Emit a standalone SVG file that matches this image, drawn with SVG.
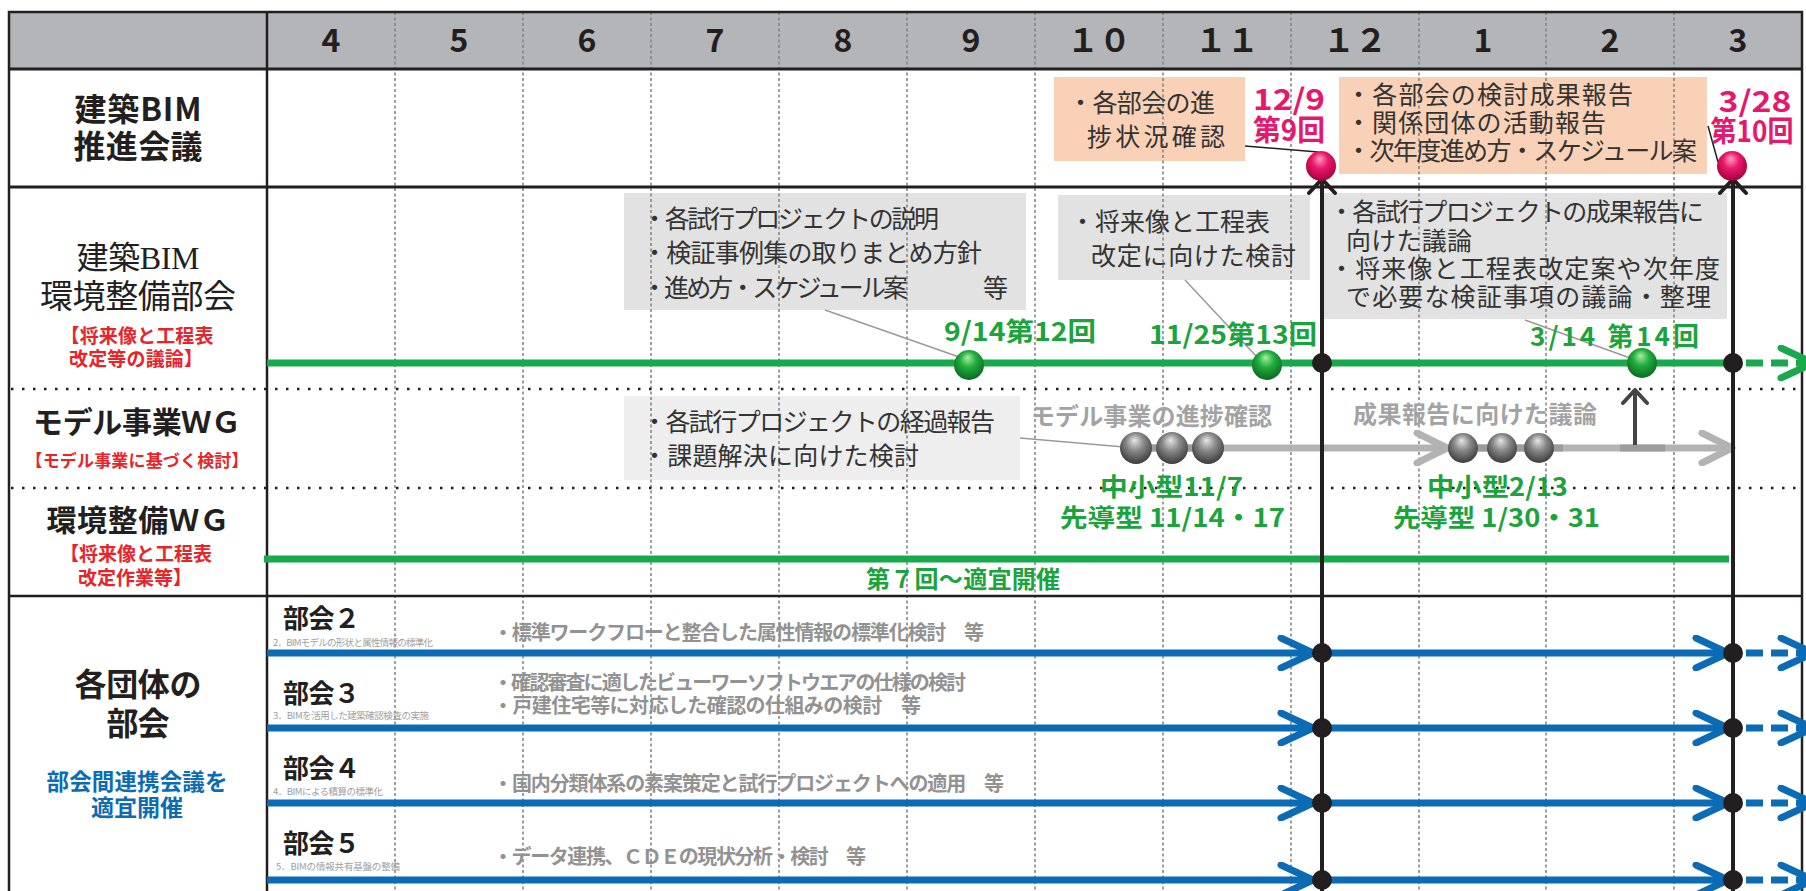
<svg xmlns="http://www.w3.org/2000/svg" width="1806" height="891" viewBox="0 0 1806 891">
<style>
text{font-family:"Noto Sans CJK JP","Noto Sans",sans-serif;}
.b{font-weight:700}
.hd{font-size:32px;fill:#231f20;font-weight:700;text-anchor:middle}
.lab{fill:#231f20;text-anchor:middle}
.red{fill:#e8242a;font-weight:700;text-anchor:middle}
.blu{fill:#0b6bb5;font-weight:700;text-anchor:middle}
.box{fill:#333;font-size:25px}
.pk{fill:#e6186e;font-weight:700;font-size:29px;text-anchor:middle}
.gr{fill:#1ba33c;font-weight:700}
.gy{fill:#a3a3a3;font-weight:700;font-size:24px}
.ds{fill:#929292;font-weight:700;font-size:20px}
.sub{fill:#a0a0a0;font-size:9.5px}
.bk{fill:#231f20;font-weight:700;font-size:26px}
.mline{stroke:#808080;stroke-width:1.5;stroke-dasharray:3 2.5;fill:none}
.dline{stroke:#231f20;stroke-width:2.5;stroke-dasharray:2.5 8.5;fill:none}
.solid{stroke:#231f20;fill:none}
.gline{stroke:#19a84b;stroke-width:7;fill:none}
.bline{stroke:#0b6bb5;stroke-width:7;fill:none}
.gyline{stroke:#b3b3b3;stroke-width:7;fill:none}
.vline{stroke:#231f20;stroke-width:4;fill:none}
.call{stroke:#9a9a9a;stroke-width:1.5;fill:none}
.callk{stroke:#231f20;stroke-width:1.5;fill:none}
</style>
<defs>
<radialGradient id="gPink" cx="50%" cy="40%" r="60%" fx="45%" fy="25%">
<stop offset="0" stop-color="#ff9cc2"/><stop offset="0.45" stop-color="#ea1a6b"/><stop offset="1" stop-color="#a5003b"/>
</radialGradient>
<radialGradient id="gGreen" cx="50%" cy="40%" r="60%" fx="45%" fy="25%">
<stop offset="0" stop-color="#a8f0a0"/><stop offset="0.45" stop-color="#22ad3e"/><stop offset="1" stop-color="#0a6a22"/>
</radialGradient>
<radialGradient id="gGray" cx="50%" cy="40%" r="60%" fx="45%" fy="25%">
<stop offset="0" stop-color="#e6e6e6"/><stop offset="0.45" stop-color="#8a8a8a"/><stop offset="1" stop-color="#3c3c3c"/>
</radialGradient>
<marker id="chB" markerUnits="userSpaceOnUse" viewBox="0 0 40 36" refX="36" refY="18" markerWidth="40" markerHeight="36" orient="auto">
<path d="M4,3 L36,18 L4,33" fill="none" stroke="#0b6bb5" stroke-width="7" stroke-linecap="round" stroke-linejoin="round"/>
</marker>
<marker id="chG" markerUnits="userSpaceOnUse" viewBox="0 0 40 36" refX="36" refY="18" markerWidth="40" markerHeight="36" orient="auto">
<path d="M4,3 L36,18 L4,33" fill="none" stroke="#19a84b" stroke-width="7" stroke-linecap="round" stroke-linejoin="round"/>
</marker>
<marker id="chY" markerUnits="userSpaceOnUse" viewBox="0 0 40 36" refX="36" refY="18" markerWidth="40" markerHeight="36" orient="auto">
<path d="M6,3 L36,18 L6,33" fill="none" stroke="#b3b3b3" stroke-width="7" stroke-linecap="round" stroke-linejoin="round"/>
</marker>
<marker id="chK" markerUnits="userSpaceOnUse" viewBox="0 0 32 20" refX="16" refY="2" markerWidth="32" markerHeight="20" orient="0">
<path d="M3,16 L16,2 L29,16" fill="none" stroke="#231f20" stroke-width="4" stroke-linecap="round" stroke-linejoin="round"/>
</marker>
<marker id="chD" markerUnits="userSpaceOnUse" viewBox="0 0 32 20" refX="16" refY="2" markerWidth="32" markerHeight="20" orient="0">
<path d="M4,15 L16,2 L28,15" fill="none" stroke="#444" stroke-width="4" stroke-linecap="round" stroke-linejoin="round"/>
</marker>
</defs>

<rect width="1806" height="891" fill="#fff"/>

<g id="grid">
<rect x="9" y="12" width="1793" height="57" fill="#b4b5b8"/>
<rect x="624" y="193" width="402" height="117" fill="#e2e2e2"/>
<rect x="1058" y="195" width="252" height="85" fill="#e2e2e2"/>
<rect x="1324" y="193" width="403" height="126" fill="#e2e2e2"/>
<rect x="624" y="396" width="396" height="84" fill="#eeeeee"/>
<rect x="1054" y="77" width="191" height="84" fill="#f9d1b6"/>
<rect x="1339" y="77" width="368" height="97" fill="#f9d1b6"/>
<path class="mline" d="M395,12V891M523,12V891M651,12V891M779,12V891M907,12V891M1035,12V891M1163,12V891M1291,12V891M1419,12V891M1546,12V891M1674,12V891"/>
<path class="dline" d="M11,389H1802M11,488H1802"/>
<path class="solid" stroke-width="3" d="M9,69H1802M9,187H1802"/>
<path class="solid" stroke-width="2.5" d="M9,596H1802M267,12V891"/>
<rect x="9" y="12" width="1793" height="890" fill="none" stroke="#231f20" stroke-width="2.5"/>
</g>

<g id="header">
<text class="hd" x="331" y="52">4</text>
<text class="hd" x="459" y="52">5</text>
<text class="hd" x="587" y="52">6</text>
<text class="hd" x="715" y="52">7</text>
<text class="hd" x="843" y="52">8</text>
<text class="hd" x="971" y="52">9</text>
<text class="hd" x="1099" y="52">１０</text>
<text class="hd" x="1227" y="52">１１</text>
<text class="hd" x="1355" y="52">１２</text>
<text class="hd" x="1483" y="52">1</text>
<text class="hd" x="1610" y="52">2</text>
<text class="hd" x="1738" y="52">3</text>
</g>

<g id="label-suishin">
<text class="lab b" x="138" y="121" font-size="32" textLength="127">建築BIM</text>
<text class="lab b" x="138" y="158" font-size="32" textLength="129">推進会議</text>
</g>
<g id="label-bukai">
<text class="lab" x="138" y="269" font-size="32" style="font-family:'Liberation Serif','Noto Sans CJK JP',serif" textLength="123">建築BIM</text>
<text class="lab" x="138" y="308" font-size="33" textLength="196">環境整備部会</text>
<text class="red" x="137" y="343" font-size="19" textLength="153">【将来像と工程表</text>
<text class="red" x="136" y="366" font-size="19" textLength="134">改定等の議論】</text>
</g>
<g id="label-modelwg">
<text class="lab b" x="137" y="433" font-size="30" textLength="208">モデル事業ＷＧ</text>
<text class="red" x="137" y="467" font-size="17" textLength="223">【モデル事業に基づく検討】</text>
</g>
<g id="label-kankyowg">
<text class="lab b" x="138" y="531" font-size="30" textLength="183">環境整備ＷＧ</text>
<text class="red" x="136" y="561" font-size="19" textLength="152">【将来像と工程表</text>
<text class="red" x="135" y="585" font-size="19" textLength="114">改定作業等】</text>
</g>
<g id="label-dantai">
<text class="lab b" x="138" y="696" font-size="32" textLength="127">各団体の</text>
<text class="lab b" x="138" y="735" font-size="32" textLength="63">部会</text>
<text class="blu" x="137" y="790" font-size="22.5" textLength="181">部会間連携会議を</text>
<text class="blu" x="137" y="816" font-size="23" textLength="92">適宜開催</text>
</g>

<g id="connectors">
<line class="gline" x1="267" y1="363" x2="1734" y2="363"/>
<line class="gline" x1="1746" y1="363" x2="1813" y2="363" stroke-dasharray="17 8" marker-end="url(#chG)"/>
<line class="gline" x1="264" y1="559" x2="1729" y2="559"/>
<line class="gyline" x1="1136" y1="448" x2="1447" y2="448" marker-end="url(#chY)"/>
<line class="gyline" x1="1447" y1="448" x2="1732" y2="448" marker-end="url(#chY)"/>
<line stroke="#9c9c9c" stroke-width="7" x1="1140" y1="448" x2="1215" y2="448"/>
<line stroke="#9c9c9c" stroke-width="7" x1="1478" y1="448" x2="1563" y2="448"/>
<line stroke="#9c9c9c" stroke-width="7" x1="1620" y1="448" x2="1665" y2="448"/>
<line stroke="#444" stroke-width="4" x1="1635" y1="445" x2="1635" y2="390" marker-end="url(#chD)"/>
<line class="bline" x1="267" y1="653" x2="1313" y2="653" marker-end="url(#chB)"/>
<line class="bline" x1="1322" y1="653" x2="1728" y2="653" marker-end="url(#chB)"/>
<line class="bline" x1="1746" y1="653" x2="1813" y2="653" stroke-dasharray="17 8" marker-end="url(#chB)"/>
<line class="bline" x1="267" y1="728" x2="1313" y2="728" marker-end="url(#chB)"/>
<line class="bline" x1="1322" y1="728" x2="1728" y2="728" marker-end="url(#chB)"/>
<line class="bline" x1="1746" y1="728" x2="1813" y2="728" stroke-dasharray="17 8" marker-end="url(#chB)"/>
<line class="bline" x1="267" y1="803" x2="1313" y2="803" marker-end="url(#chB)"/>
<line class="bline" x1="1322" y1="803" x2="1728" y2="803" marker-end="url(#chB)"/>
<line class="bline" x1="1746" y1="803" x2="1813" y2="803" stroke-dasharray="17 8" marker-end="url(#chB)"/>
<line class="bline" x1="267" y1="880" x2="1313" y2="880" marker-end="url(#chB)"/>
<line class="bline" x1="1322" y1="880" x2="1728" y2="880" marker-end="url(#chB)"/>
<line class="bline" x1="1746" y1="880" x2="1813" y2="880" stroke-dasharray="17 8" marker-end="url(#chB)"/>
<line class="vline" x1="1322" y1="891" x2="1322" y2="179" marker-end="url(#chK)"/>
<line class="vline" x1="1733" y1="891" x2="1733" y2="179" marker-end="url(#chK)"/>
<line class="callk" x1="1245" y1="146" x2="1318" y2="152"/>
<line class="callk" x1="1708" y1="126" x2="1718" y2="162"/>
<line class="call" x1="825" y1="310" x2="962" y2="358"/>
<line class="call" x1="1185" y1="280" x2="1256" y2="356"/>
<line class="call" x1="1525" y1="320" x2="1630" y2="358"/>
<line class="call" x1="1020" y1="438" x2="1124" y2="447"/>
<g fill="#231f20">
<circle cx="1322" cy="363" r="10"/><circle cx="1733" cy="363" r="10"/>
<circle cx="1322" cy="653" r="10"/><circle cx="1733" cy="653" r="10"/>
<circle cx="1322" cy="728" r="10"/><circle cx="1733" cy="728" r="10"/>
<circle cx="1322" cy="803" r="10"/><circle cx="1733" cy="803" r="10"/>
<circle cx="1322" cy="880" r="10"/><circle cx="1733" cy="880" r="10"/>
</g>
</g>

<g id="suishin-9">
<text class="box" x="1068" y="112" font-size="24" textLength="147">・各部会の進</text>
<text class="box" x="1087" y="146" font-size="24" textLength="138">捗状況確認</text>
<circle cx="1321" cy="166" r="15" fill="url(#gPink)"/>
<text class="pk" x="1289" y="110" textLength="72" lengthAdjust="spacingAndGlyphs">12/9</text>
<text class="pk" x="1289" y="141" font-size="27" textLength="72" lengthAdjust="spacingAndGlyphs">第9回</text>
</g>
<g id="suishin-10">
<text class="box" x="1346" y="104" font-size="25" textLength="287">・各部会の検討成果報告</text>
<text class="box" x="1346" y="132" font-size="25" textLength="260">・関係団体の活動報告</text>
<text class="box" x="1346" y="160" font-size="25" textLength="351">・次年度進め方・スケジュール案</text>
<circle cx="1732" cy="166" r="15" fill="url(#gPink)"/>
<text class="pk" x="1755" y="112" textLength="73" lengthAdjust="spacingAndGlyphs">3/28</text>
<text class="pk" x="1752" y="142" font-size="27" textLength="83" lengthAdjust="spacingAndGlyphs">第10回</text>
</g>

<g id="bukai-12">
<text class="box" x="642" y="228" textLength="297">・各試行プロジェクトの説明</text>
<text class="box" x="642" y="262" textLength="340">・検証事例集の取りまとめ方針</text>
<text class="box" x="642" y="297" textLength="266">・進め方・スケジュール案</text>
<text class="box" x="983" y="297" font-size="22">等</text>
<circle cx="969" cy="365" r="15" fill="url(#gGreen)"/>
<text class="gr" x="944" y="341" font-size="26" textLength="152" lengthAdjust="spacingAndGlyphs">9/14第12回</text>
</g>
<g id="bukai-13">
<text class="box" x="1070" y="231" textLength="200">・将来像と工程表</text>
<text class="box" x="1091" y="265" textLength="205">改定に向けた検討</text>
<circle cx="1267" cy="365" r="15" fill="url(#gGreen)"/>
<text class="gr" x="1149" y="344" font-size="26" textLength="168" lengthAdjust="spacingAndGlyphs">11/25第13回</text>
</g>
<g id="bukai-14">
<text class="box" x="1329" y="221" textLength="375">・各試行プロジェクトの成果報告に</text>
<text class="box" x="1346" y="250" textLength="126">向けた議論</text>
<text class="box" x="1329" y="278" textLength="391">・将来像と工程表改定案や次年度</text>
<text class="box" x="1346" y="306" textLength="365">で必要な検証事項の議論・整理</text>
<circle cx="1642" cy="363" r="15" fill="url(#gGreen)"/>
<text class="gr" x="1530" y="346" font-size="26" textLength="169">3/14  第14回</text>
</g>

<g id="model-progress">
<text class="box" x="642" y="431" textLength="353">・各試行プロジェクトの経過報告</text>
<text class="box" x="642" y="465" textLength="277">・課題解決に向けた検討</text>
<text class="gy" x="1031" y="425" textLength="241">モデル事業の進捗確認</text>
<circle cx="1136" cy="448" r="16" fill="url(#gGray)"/>
<circle cx="1172" cy="448" r="16" fill="url(#gGray)"/>
<circle cx="1208" cy="448" r="16" fill="url(#gGray)"/>
<text class="gr" x="1100" y="496" font-size="25" textLength="143" lengthAdjust="spacingAndGlyphs">中小型11/7</text>
<text class="gr" x="1060" y="527" font-size="25" textLength="225" lengthAdjust="spacingAndGlyphs">先導型  11/14・17</text>
</g>
<g id="model-result">
<text class="gy" x="1353" y="423" textLength="244">成果報告に向けた議論</text>
<circle cx="1463" cy="448" r="15" fill="url(#gGray)"/>
<circle cx="1502" cy="448" r="15" fill="url(#gGray)"/>
<circle cx="1539" cy="448" r="15" fill="url(#gGray)"/>
<text class="gr" x="1427" y="496" font-size="25" textLength="141" lengthAdjust="spacingAndGlyphs">中小型2/13</text>
<text class="gr" x="1393" y="527" font-size="25" textLength="207" lengthAdjust="spacingAndGlyphs">先導型  1/30・31</text>
</g>

<g id="kankyo-wg">
<text class="gr" x="963" y="588" font-size="24" text-anchor="middle" textLength="194">第７回～適宜開催</text>
</g>

<g id="bukai2">
<text class="bk" x="283" y="628" textLength="77">部会２</text>
<text class="sub" x="273" y="646" textLength="160">2．BIMモデルの形状と属性情報の標準化</text>
<text class="ds" x="493" y="640" textLength="491">・標準ワークフローと整合した属性情報の標準化検討　等</text>
</g>
<g id="bukai3">
<text class="bk" x="283" y="703" textLength="77">部会３</text>
<text class="sub" x="273" y="719" textLength="156">3．BIMを活用した建築確認検査の実施</text>
<text class="ds" x="493" y="690" textLength="473">・確認審査に適したビューワーソフトウエアの仕様の検討</text>
<text class="ds" x="493" y="713" textLength="428">・戸建住宅等に対応した確認の仕組みの検討　等</text>
</g>
<g id="bukai4">
<text class="bk" x="283" y="778" textLength="77">部会４</text>
<text class="sub" x="273" y="795" textLength="110">4．BIMによる積算の標準化</text>
<text class="ds" x="493" y="791" textLength="511">・国内分類体系の素案策定と試行プロジェクトへの適用　等</text>
</g>
<g id="bukai5">
<text class="bk" x="283" y="853" textLength="77">部会５</text>
<text class="sub" x="276" y="870" textLength="124">5．BIMの情報共有基盤の整備</text>
<text class="ds" x="493" y="864" textLength="373">・データ連携、ＣＤＥの現状分析・検討　等</text>
</g>
</svg>
